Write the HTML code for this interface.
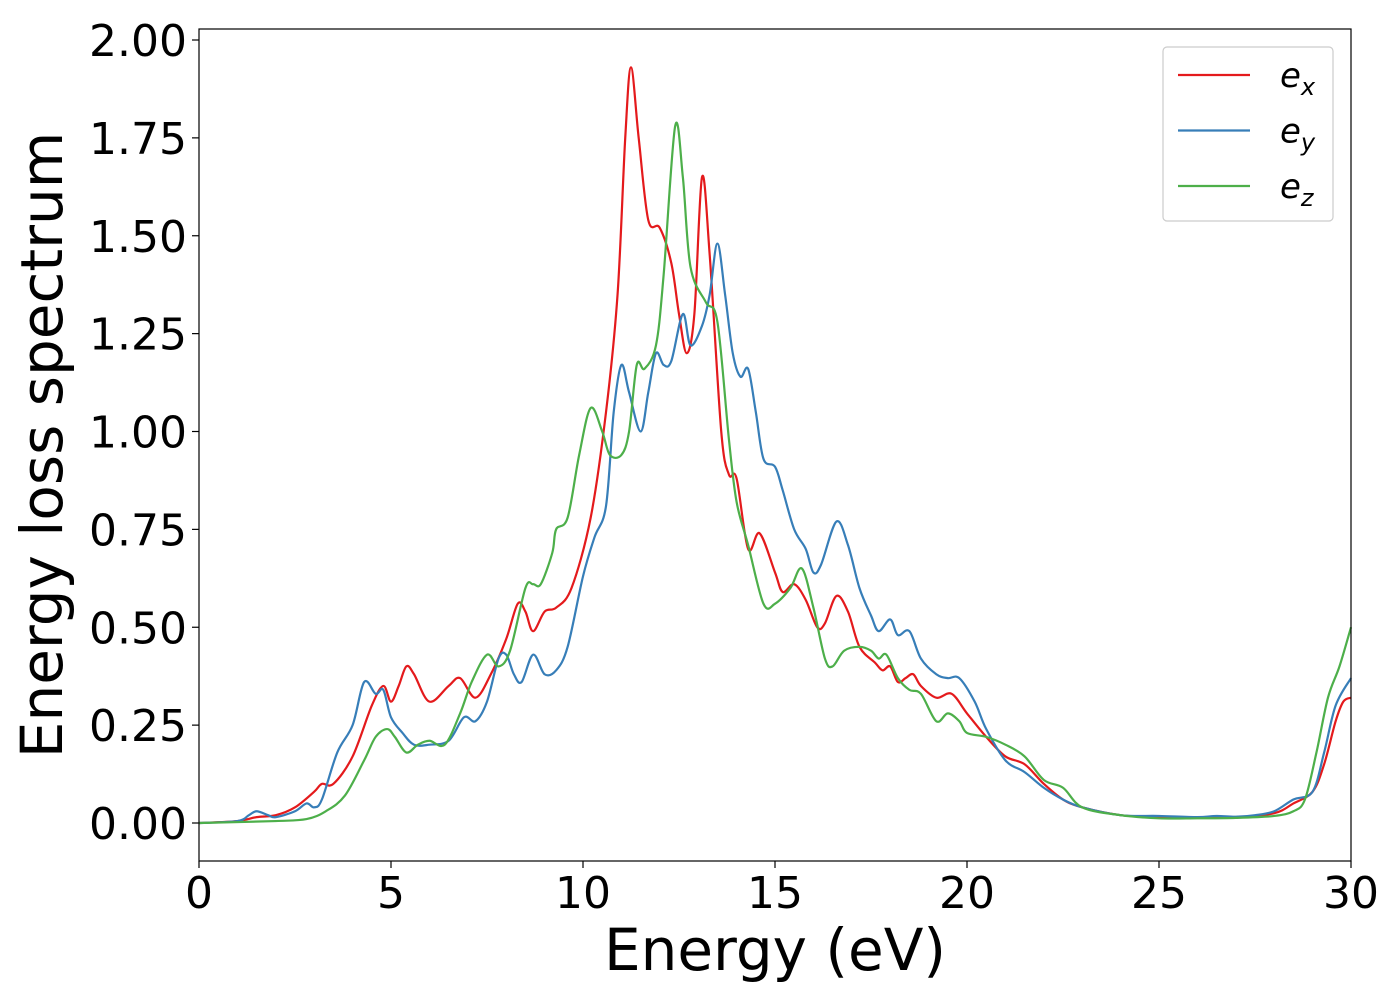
<!DOCTYPE html>
<html><head><meta charset="utf-8"><style>
body{margin:0;background:#fff}
svg text{font-family:"DejaVu Sans","Liberation Sans",sans-serif;fill:#000}
</style></head><body>
<svg id="chart" width="1400" height="1000" xmlns="http://www.w3.org/2000/svg">
<g id="plot"></g>
</svg>
<script>
const xTicks=[0,5,10,15,20,25,30];
const yTicks=[0,0.25,0.5,0.75,1.0,1.25,1.5,1.75,2.0];
const yTickLabels=["0.00","0.25","0.50","0.75","1.00","1.25","1.50","1.75","2.00"];
const seriesNames=["e_x","e_y","e_z"];
const exX=[0,1,1.5,2,2.5,3,3.2,3.5,4,4.5,4.8,5,5.2,5.4,5.6,6,6.5,6.8,7.2,7.6,8,8.3,8.5,8.7,9,9.3,9.7,10.2,10.6,10.9,11.1,11.25,11.45,11.7,12,12.3,12.5,12.7,12.9,13.1,13.3,13.6,13.8,14,14.3,14.6,15,15.2,15.5,15.8,16.1,16.3,16.6,16.9,17.2,17.6,17.8,18,18.2,18.4,18.6,18.8,19.2,19.6,20,20.5,21,21.5,22,22.5,23,24,25,26,27,28,28.5,29,29.3,29.6,29.8,30];
const exV=[0,0.005,0.015,0.02,0.04,0.08,0.1,0.1,0.17,0.3,0.35,0.31,0.35,0.40,0.38,0.31,0.35,0.37,0.32,0.38,0.47,0.56,0.54,0.49,0.54,0.55,0.60,0.78,1.05,1.35,1.75,1.93,1.75,1.54,1.52,1.43,1.30,1.20,1.30,1.65,1.45,1.00,0.89,0.88,0.70,0.74,0.64,0.59,0.61,0.57,0.50,0.51,0.58,0.54,0.45,0.41,0.39,0.40,0.36,0.37,0.38,0.35,0.32,0.33,0.28,0.22,0.17,0.15,0.10,0.06,0.04,0.02,0.015,0.015,0.015,0.025,0.05,0.08,0.15,0.26,0.31,0.32];
const eyX=[0,1,1.3,1.5,1.8,2,2.5,2.8,3,3.2,3.6,4,4.3,4.6,4.8,5,5.3,5.6,6,6.5,6.9,7.2,7.5,7.8,8,8.2,8.4,8.7,9,9.3,9.6,10,10.3,10.6,10.8,11,11.2,11.5,11.7,11.9,12.1,12.3,12.6,12.8,13.1,13.3,13.5,13.7,13.9,14.1,14.3,14.5,14.7,15,15.2,15.5,15.8,16,16.2,16.6,16.9,17.2,17.5,17.7,18,18.2,18.5,18.8,19.2,19.5,19.8,20.2,20.5,21,21.5,22,22.5,23,24,25,26,26.5,27,27.5,28,28.5,29,29.3,29.6,30];
const eyV=[0,0.005,0.02,0.03,0.02,0.015,0.03,0.05,0.04,0.06,0.18,0.25,0.36,0.33,0.34,0.27,0.23,0.2,0.2,0.21,0.27,0.26,0.31,0.42,0.43,0.38,0.36,0.43,0.38,0.39,0.45,0.63,0.73,0.81,1.05,1.17,1.1,1.0,1.1,1.2,1.17,1.18,1.3,1.22,1.27,1.35,1.48,1.35,1.2,1.14,1.16,1.05,0.93,0.91,0.85,0.75,0.70,0.64,0.66,0.77,0.71,0.60,0.53,0.49,0.52,0.48,0.49,0.42,0.38,0.37,0.37,0.31,0.24,0.16,0.13,0.09,0.06,0.04,0.02,0.018,0.015,0.018,0.016,0.02,0.03,0.06,0.08,0.18,0.3,0.37];
const ezX=[0,2,2.8,3.3,3.8,4.3,4.6,4.9,5.1,5.4,5.7,6,6.4,6.8,7.1,7.5,7.8,8.1,8.5,8.7,8.9,9.2,9.3,9.6,9.9,10.2,10.5,10.7,11,11.2,11.4,11.6,11.9,12.1,12.4,12.6,12.8,13.2,13.5,13.8,14,14.3,14.7,15,15.4,15.7,16,16.3,16.5,16.8,17.2,17.5,17.7,17.9,18.2,18.5,18.8,19.2,19.5,19.8,20,20.5,21,21.5,22,22.5,23,24,25,26,27,28,28.5,28.8,29.1,29.4,29.7,30];
const ezV=[0,0.005,0.01,0.03,0.07,0.16,0.22,0.24,0.22,0.18,0.2,0.21,0.2,0.28,0.36,0.43,0.40,0.44,0.60,0.61,0.61,0.69,0.75,0.78,0.94,1.06,1.0,0.94,0.94,1.0,1.17,1.16,1.22,1.40,1.78,1.65,1.42,1.33,1.28,0.98,0.82,0.71,0.56,0.56,0.6,0.65,0.55,0.42,0.40,0.44,0.45,0.44,0.42,0.43,0.37,0.34,0.33,0.26,0.28,0.26,0.23,0.22,0.2,0.17,0.11,0.09,0.04,0.02,0.012,0.012,0.013,0.018,0.03,0.06,0.18,0.32,0.4,0.5];

const L=199,R=1351,T=29,B=861;
const sx=v=>L+(v-0)/30*(R-L);
const sy=v=>823-v*391.5;
const NS="http://www.w3.org/2000/svg";
const g=document.getElementById('plot');
function mk(tag,attrs){const e=document.createElementNS(NS,tag);for(const k in attrs)e.setAttribute(k,attrs[k]);g.appendChild(e);return e;}
function pathFor(xs,vs){
  const p=xs.map((x,i)=>[sx(x),sy(vs[i])]);
  let d=`M${p[0][0]},${p[0][1]}`;
  for(let i=0;i<p.length-1;i++){
    const p0=p[Math.max(i-1,0)],p1=p[i],p2=p[i+1],p3=p[Math.min(i+2,p.length-1)];
    const c1=[p1[0]+(p2[0]-p0[0])/6,p1[1]+(p2[1]-p0[1])/6];
    const c2=[p2[0]-(p3[0]-p1[0])/6,p2[1]-(p3[1]-p1[1])/6];
    d+=`C${c1[0]},${c1[1]} ${c2[0]},${c2[1]} ${p2[0]},${p2[1]}`;
  }
  return d;
}
const series=[[exX,exV,'#e41a1c'],[eyX,eyV,'#377eb8'],[ezX,ezV,'#4daf4a']];
series.forEach((s,i)=>{
  const e=mk('path',{d:pathFor(s[0],s[1]),fill:'none',stroke:s[2],'stroke-width':2.2});
  
  
});
const frame=mk('rect',{x:L,y:T,width:R-L,height:B-T,fill:'none',stroke:'#000','stroke-width':1.2});


xTicks.forEach(t=>{
  const ln=mk('line',{x1:sx(t),x2:sx(t),y1:B,y2:B+7,stroke:'#000','stroke-width':1.2});
  
  
  const tx=mk('text',{x:sx(t),y:908,'font-size':44,'text-anchor':'middle'});
  tx.textContent=t;
  
  
});
yTicks.forEach((t,i)=>{
  const ln=mk('line',{x1:L-7,x2:L,y1:sy(t),y2:sy(t),stroke:'#000','stroke-width':1.2});
  
  
  const tx=mk('text',{x:187,y:sy(t)+16,'font-size':44,'text-anchor':'end'});
  tx.textContent=yTickLabels[i];
  
  
});
const xl=mk('text',{x:775,y:970,'font-size':58,'text-anchor':'middle'});
xl.textContent='Energy (eV)';


const yl=mk('text',{x:0,y:0,'font-size':58,'text-anchor':'middle',transform:'translate(62,445) rotate(-90)'});
yl.textContent='Energy loss spectrum';


const lb=mk('rect',{x:1163,y:47,width:170,height:174,rx:4,fill:'#fff',stroke:'#ccc','stroke-width':1.2});


const subs=['x','y','z'];
series.forEach((s,i)=>{
  const y=75+i*55.5;
  const ln=mk('line',{x1:1178,x2:1250,y1:y,y2:y,stroke:s[2],'stroke-width':2.2});
  
  
  const tx=mk('text',{x:1280,y:y+12,'font-size':34,'font-style':'italic'});
  tx.innerHTML='e<tspan font-size="24" dy="8">'+subs[i]+'</tspan>';
  
  
});
</script>
</body></html>
